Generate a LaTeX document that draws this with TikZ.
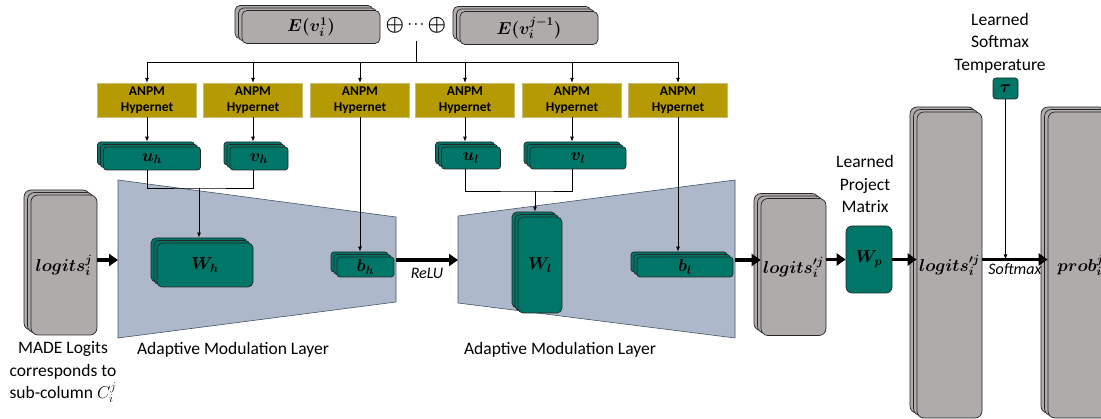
\documentclass[tikz,border=0pt]{standalone}
\usepackage{bm}
\usepackage{fontspec}
\setmainfont{Carlito}
\usetikzlibrary{arrows.meta,shadows}
\definecolor{amteal}{RGB}{0,118,104}
\definecolor{hypgold}{RGB}{181,154,4}
\definecolor{hypedge}{RGB}{196,190,120}
\definecolor{stackgrey}{RGB}{175,171,171}
\definecolor{layerblue}{RGB}{173,185,202}
\definecolor{layeredge}{RGB}{68,84,106}

\begin{document}
\begin{tikzpicture}[
  x=1pt,y=-1pt,
  font=\fontsize{17.5}{22.5}\selectfont,
  >={Latex[length=5pt,width=4pt]},
  stack/.style={
    draw=black!85,
    line width=0.7pt,
    fill=stackgrey,
    rounded corners=7pt,
    inner sep=0pt,
    double copy shadow={shadow xshift=-3.5pt,shadow yshift=2.5pt}
  },
  param/.style={
    draw=black!85,
    line width=0.7pt,
    fill=amteal,
    rounded corners=3pt,
    inner sep=0pt,
    double copy shadow={shadow xshift=-3pt,shadow yshift=2.5pt}
  },
  mat/.style={
    draw=black!85,
    line width=0.7pt,
    fill=amteal,
    rounded corners=6pt,
    inner sep=0pt
  },
  hyper/.style={
    draw=hypedge,
    fill=hypgold,
    align=center,
    inner sep=0pt,
    minimum width=99pt,
    minimum height=34pt,
    font=\fontsize{13.5}{15.5}\selectfont\bfseries
  },
  layer/.style={fill=layerblue,draw=layeredge,line width=0.6pt},
  flow/.style={line width=3.5pt,-{Triangle[length=9pt,width=12pt]}},
  link/.style={line width=0.8pt},
  lbl/.style={align=center}
]
\useasboundingbox (0,0) rectangle (1101,419);
\clip (0,0) rectangle (1101,419);

\draw[layer] (118,180) -- (396,217) -- (396,302) -- (118,338) -- cycle;
\draw[layer] (458,216) -- (735,180) -- (735,338) -- (458,303) -- cycle;
\coordinate (in1) at (118,260);
\coordinate (out1) at (396,260);
\coordinate (in2) at (458,260);
\coordinate (out2) at (735,260);

\node[stack,rounded corners=5pt,minimum width=138pt,minimum height=33pt] (e1) at (311,27) {$\bm{E(v_i^1)}$};
\node (op1) at (395,25) {\fontsize{20}{24}\selectfont$\bm{\oplus}$};
\node[inner sep=0pt,minimum height=32pt] (dots) at (416,25) {\fontsize{12}{14}\selectfont$\bm{\cdots}$};
\node (op2) at (437,25) {\fontsize{20}{24}\selectfont$\bm{\oplus}$};
\node[stack,rounded corners=5pt,minimum width=138pt,minimum height=33pt] (ej) at (529,28) {$\bm{E(v_i^{j-1})}$};
\coordinate (fan) at (416,62);

\node[hyper] (a1) at (147,100) {ANPM\\Hypernet};
\node[hyper] (a2) at (253,100) {ANPM\\Hypernet};
\node[hyper] (a3) at (360,100) {ANPM\\Hypernet};
\node[hyper] (a4) at (465,100) {ANPM\\Hypernet};
\node[hyper] (a5) at (572,100) {ANPM\\Hypernet};
\node[hyper] (a6) at (678,100) {ANPM\\Hypernet};

\node[param,minimum width=97pt,minimum height=23pt] (uh) at (152,158.5) {$\bm{u_h}$};
\node[param,minimum width=58pt,minimum height=23pt] (vh) at (259,158.5) {$\bm{v_h}$};
\node[param,minimum width=59pt,minimum height=22pt] (ul) at (471,158) {$\bm{u_l}$};
\node[param,minimum width=96pt,minimum height=22pt] (vl) at (578,158) {$\bm{v_l}$};
\coordinate (jh) at (199,188);
\coordinate (jl) at (535,191);

\node[stack,minimum width=66pt,minimum height=140pt] (lgin) at (64,265) {$\bm{logits_i^j}$};
\node[param,minimum width=96pt,minimum height=44pt,rounded corners=5pt] (wh) at (205,265) {$\bm{W_h}$};
\node[param,minimum width=57pt,minimum height=20pt] (bh) at (365.5,267) {$\bm{b_h}$};
\node[param,minimum width=44pt,minimum height=96pt,rounded corners=5pt] (wl) at (540,265) {$\bm{W_l}$};
\node[param,minimum width=96pt,minimum height=20pt] (bl) at (685,267) {$\bm{b_l}$};
\node[stack,minimum width=65pt,minimum height=137pt] (lg1) at (793.5,267) {$\bm{logits'^{j}_{i}}$};
\node[mat,minimum width=46pt,minimum height=67pt] (wp) at (869,259.5) {$\bm{W_p}$};
\node[stack,minimum width=65pt,minimum height=306pt] (lg2) at (949.5,265) {$\bm{logits'^{j}_{i}}$};
\node[stack,minimum width=65pt,minimum height=306pt] (prob) at (1080.5,265) {$\bm{prob_i^j}$};
\node[mat,rounded corners=3pt,minimum width=25pt,minimum height=21pt] (tau) at (1005.5,88.5) {$\bm{\tau}$};

\node[lbl] (made) at (63,372) {MADE Logits\\corresponds to\\sub-column $C_i^j$};
\node (aml1) at (233,350) {Adaptive Modulation Layer};
\node (aml2) at (560,350) {Adaptive Modulation Layer};
\node[lbl] (proj) at (865,184) {Learned\\Project\\Matrix};
\node[lbl] (temp) at (1000,43) {Learned\\Softmax\\Temperature};

\draw[link] (dots.south) -- (fan);
\draw[link] (a1.north |- fan) -- (a6.north |- fan);
\draw[link,->] (a1.north |- fan) -- (a1.north);
\draw[link,->] (a2.north |- fan) -- (a2.north);
\draw[link,->] (a3.north |- fan) -- (a3.north);
\draw[link,->] (a4.north |- fan) -- (a4.north);
\draw[link,->] (a5.north |- fan) -- (a5.north);
\draw[link,->] (a6.north |- fan) -- (a6.north);

\draw[link,->] (a1.south) -- ([yshift=5pt]a1.south |- uh.north);
\draw[link,->] (a2.south) -- ([yshift=5pt]a2.south |- vh.north);
\draw[link,->] (a3.south) -- ([yshift=5pt]a3.south |- bh.north);
\draw[link,->] (a4.south) -- ([yshift=5pt]a4.south |- ul.north);
\draw[link,->] (a5.south) -- ([yshift=5pt]a5.south |- vl.north);
\draw[link,->] (a6.south) -- ([yshift=5pt]a6.south |- bl.north);

\draw[link] (a1.south |- uh.south) |- (jh) -| (a2.south |- vh.south);
\draw[link,->] (jh) -- ([yshift=5pt]jh |- wh.north);
\draw[link] (a4.south |- ul.south) |- (jl) -| (a5.south |- vl.south);
\draw[link,->] (jl) -- ([yshift=5pt]jl |- wl.north);

\draw[flow] (lgin.east |- in1) -- (in1);
\draw[flow] (out1) -- node[below=6pt,inner sep=0pt,font=\fontsize{16}{18}\selectfont\itshape] (relu) {ReLU} (in2);
\draw[flow] (out2) -- (lg1.west |- out2);
\draw[flow] (lg1.east |- wp) -- (wp.west);
\draw[flow] (wp.east) -- (lg2.west |- wp);
\draw[flow] (lg2.east |- wp) -- node[below=2pt,inner sep=0pt,font=\fontsize{16}{18}\selectfont\itshape] (smx) {Softmax} (prob.west |- wp);
\draw[link,->] (tau.south) -- (tau.south |- wp);
\end{tikzpicture}
\end{document}
